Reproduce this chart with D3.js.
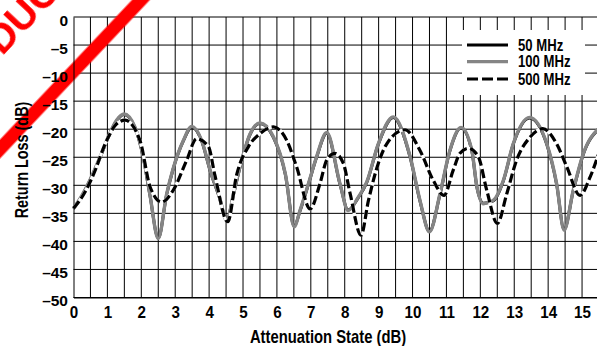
<!DOCTYPE html>
<html><head><meta charset="utf-8">
<script src="https://cdn.jsdelivr.net/npm/d3@7"></script>
<style>
html,body{margin:0;padding:0;background:#fff;overflow:hidden}
svg text{font-family:'Liberation Sans',Arial,Helvetica,sans-serif;font-weight:bold;fill:#000}
</style>
</head><body>
<svg id="chart" width="597" height="346"></svg>
<script>
// Return loss vs. attenuation state, three test frequencies
const series = ["50 MHz", "100 MHz", "500 MHz"];

const state50 = [0,0.25,0.49,0.78,0.98,1.27,1.49,1.81,2.06,2.25,2.5,2.75,2.94,3.24,3.49,3.78,4.03,4.3,4.52,4.72,4.91,5.21,5.5,5.9,6.25,6.51,6.68,6.93,7.17,7.47,7.86,8.1,8.4,8.65,8.99,9.43,9.93,10.22,10.5,10.81,11.1,11.43,11.75,11.9,12.09,12.38,12.68,12.97,13.45,13.96,14.25,14.47,14.74,15.04,15.5];
const loss50  = [-34.2,-31.9,-29.1,-25.1,-22.1,-18.5,-17.4,-19.7,-25.1,-31.6,-39.4,-31.6,-27.1,-22.1,-19.6,-22.1,-27.4,-32.1,-36.2,-31.6,-26.8,-20.9,-19.0,-21.5,-28.1,-37.3,-34.6,-29.8,-25.0,-20.7,-29.8,-34.4,-32.2,-29.5,-22.7,-17.9,-25.0,-32.8,-38.2,-31.6,-23.9,-19.8,-23.9,-30.4,-33.2,-32.8,-29.2,-22.7,-18.0,-22.7,-29.8,-37.9,-31.0,-24.4,-19.9];

const state100 = [0,0.25,0.49,0.78,0.98,1.27,1.49,1.81,2.06,2.25,2.5,2.75,2.94,3.24,3.49,3.78,4.03,4.3,4.52,4.72,4.91,5.21,5.5,5.9,6.25,6.51,6.68,6.93,7.17,7.47,7.86,8.1,8.4,8.65,8.99,9.43,9.93,10.22,10.5,10.81,11.1,11.43,11.75,11.9,12.09,12.38,12.68,12.97,13.45,13.96,14.25,14.47,14.74,15.04,15.5];
const loss100  = [-34.1,-31.8,-29.0,-25.0,-22.0,-18.4,-17.3,-19.6,-25.0,-31.5,-39.5,-31.5,-27.0,-22.0,-19.5,-22.0,-27.3,-32.0,-36.3,-31.5,-26.7,-20.8,-18.9,-21.4,-28.0,-37.4,-34.5,-29.7,-24.9,-20.6,-29.7,-34.5,-32.1,-29.4,-22.6,-17.8,-24.9,-32.7,-38.3,-31.5,-23.8,-19.7,-23.8,-30.3,-33.3,-32.7,-29.1,-22.6,-17.9,-22.6,-29.7,-38.0,-30.9,-24.3,-19.8];

const state500 = [0,0.34,0.58,0.98,1.25,1.52,1.96,2.26,2.6,2.94,3.34,3.63,3.98,4.17,4.55,4.81,5.16,5.5,5.9,6.29,6.58,6.98,7.27,7.47,7.71,7.96,8.16,8.48,8.7,8.99,9.24,9.78,10.22,10.61,10.93,11.2,11.4,11.65,11.94,12.19,12.5,12.78,13.07,13.47,13.84,14.25,14.55,14.94,15.24,15.5];
const loss500  = [-34.1,-31.2,-28.2,-22.0,-19.2,-18.4,-22.0,-30.3,-33.0,-30.9,-25.5,-21.7,-23.1,-28.2,-36.5,-28.2,-23.1,-20.8,-19.6,-22.0,-26.7,-34.2,-29.7,-25.5,-24.3,-26.1,-31.5,-38.9,-32.7,-26.1,-22.6,-20.1,-23.8,-29.1,-31.8,-27.3,-24.3,-23.4,-24.9,-30.9,-36.8,-31.5,-25.5,-21.4,-19.9,-22.6,-26.7,-31.8,-28.5,-24.2];

const xTicks = [0,1,2,3,4,5,6,7,8,9,10,11,12,13,14,15];
const yTicks = [0,-5,-10,-15,-20,-25,-30,-35,-40,-45,-50];
const yTickLabels = ["0","–5","–10","–15","–20","–25","–30","–35","–40","–45","–50"];

const svg = d3.select("#chart");
const x = d3.scaleLinear().domain([0, 15.5]).range([73.5, 599]);
const y = d3.scaleLinear().domain([-50, 0]).range([297.5, 17]);

// grid: every 0.5 dB across, every 5 dB down
const grid = svg.append("g").attr("stroke", "#000").attr("stroke-width", 1);
grid.selectAll("line.v").data(d3.range(1, 32).map(d => d / 2)).join("line")
  .attr("x1", d => x(d)).attr("x2", d => x(d)).attr("y1", y(0)).attr("y2", y(-50));
grid.selectAll("line.h").data(yTicks).join("line")
  .attr("x1", x(0)).attr("x2", 597).attr("y1", d => y(d)).attr("y2", d => y(d));

// status stamp across the upper-left corner (under the labels)
const defs = svg.append("defs");
defs.append("filter").attr("id", "soft").append("feGaussianBlur").attr("stdDeviation", 0.6);
const stamp = svg.append("g").attr("transform", "translate(0,149) rotate(-46.6)").attr("filter", "url(#soft)");
stamp.append("line").attr("x1", -30).attr("x2", 260).attr("y1", 0).attr("y2", 0)
  .attr("stroke", "#ff0000").attr("stroke-width", 13);
stamp.append("text").attr("x", -18).attr("y", -62)
  .style("font-size", "40px").style("fill", "#ff0000").text("PRODUCT OBSOLETE");

// axes
const yAxis = svg.append("g").attr("transform", `translate(${x(0)},0)`)
  .call(d3.axisLeft(y).tickValues(yTicks).tickSize(0).tickPadding(5.5)
    .tickFormat((d, i) => yTickLabels[i]));
yAxis.select(".domain").attr("stroke", "#000");
yAxis.selectAll("text").style("font-size", "15.5px").attr("dy", "0.52em");

const xAxis = svg.append("g").attr("transform", `translate(0,${y(-50)})`)
  .call(d3.axisBottom(x).tickValues(xTicks).tickSize(0).tickPadding(8.5).tickFormat(d3.format("d")));
xAxis.select(".domain").attr("stroke", "#000");
xAxis.selectAll("text").style("font-size", "16.5px").attr("transform", "scale(0.92,1)");

// condensed titles
svg.append("text").attr("transform", "translate(328,343) scale(0.8,1)").attr("text-anchor", "middle")
  .style("font-size", "18.5px").text("Attenuation State (dB)");
svg.append("text").attr("transform", "translate(27.5,160) rotate(-90) scale(0.8,1)").attr("text-anchor", "middle")
  .style("font-size", "18px").text("Return Loss (dB)");

// curves
const line = d3.line().x(d => x(d[0])).y(d => y(d[1])).curve(d3.curveMonotoneX);
const pts = (xs, ys) => xs.map((v, i) => [v, ys[i]]);
const plot = svg.append("g").attr("fill", "none").attr("stroke-linejoin", "round");
plot.append("path").attr("d", line(pts(state50, loss50))).attr("stroke", "#000").attr("stroke-width", 3);
plot.append("path").attr("d", line(pts(state100, loss100))).attr("stroke", "#858585").attr("stroke-width", 3.4);
plot.append("path").attr("d", line(pts(state500, loss500))).attr("stroke", "#fff").attr("stroke-width", 3.2);
plot.append("path").attr("d", line(pts(state500, loss500))).attr("stroke", "#000").attr("stroke-width", 3.2)
  .attr("stroke-dasharray", "9,3.5");

// legend
const lg = svg.append("g");
lg.append("rect").attr("x", 462).attr("y", 30).attr("width", 123).attr("height", 65).attr("fill", "#fff");
const lgStyle = [
  {stroke: "#000", dash: null},
  {stroke: "#858585", dash: null},
  {stroke: "#000", dash: "11,4"}
];
const lgY = [45, 61.7, 79];
series.forEach((s, i) => {
  lg.append("line").attr("x1", 467).attr("x2", 508).attr("y1", lgY[i]).attr("y2", lgY[i])
    .attr("stroke", lgStyle[i].stroke).attr("stroke-width", 3.2).attr("stroke-dasharray", lgStyle[i].dash);
  lg.append("text").attr("transform", `translate(518,${lgY[i] + 5.5}) scale(0.82,1)`)
    .style("font-size", "16px").text(s);
});
</script>
</body></html>
